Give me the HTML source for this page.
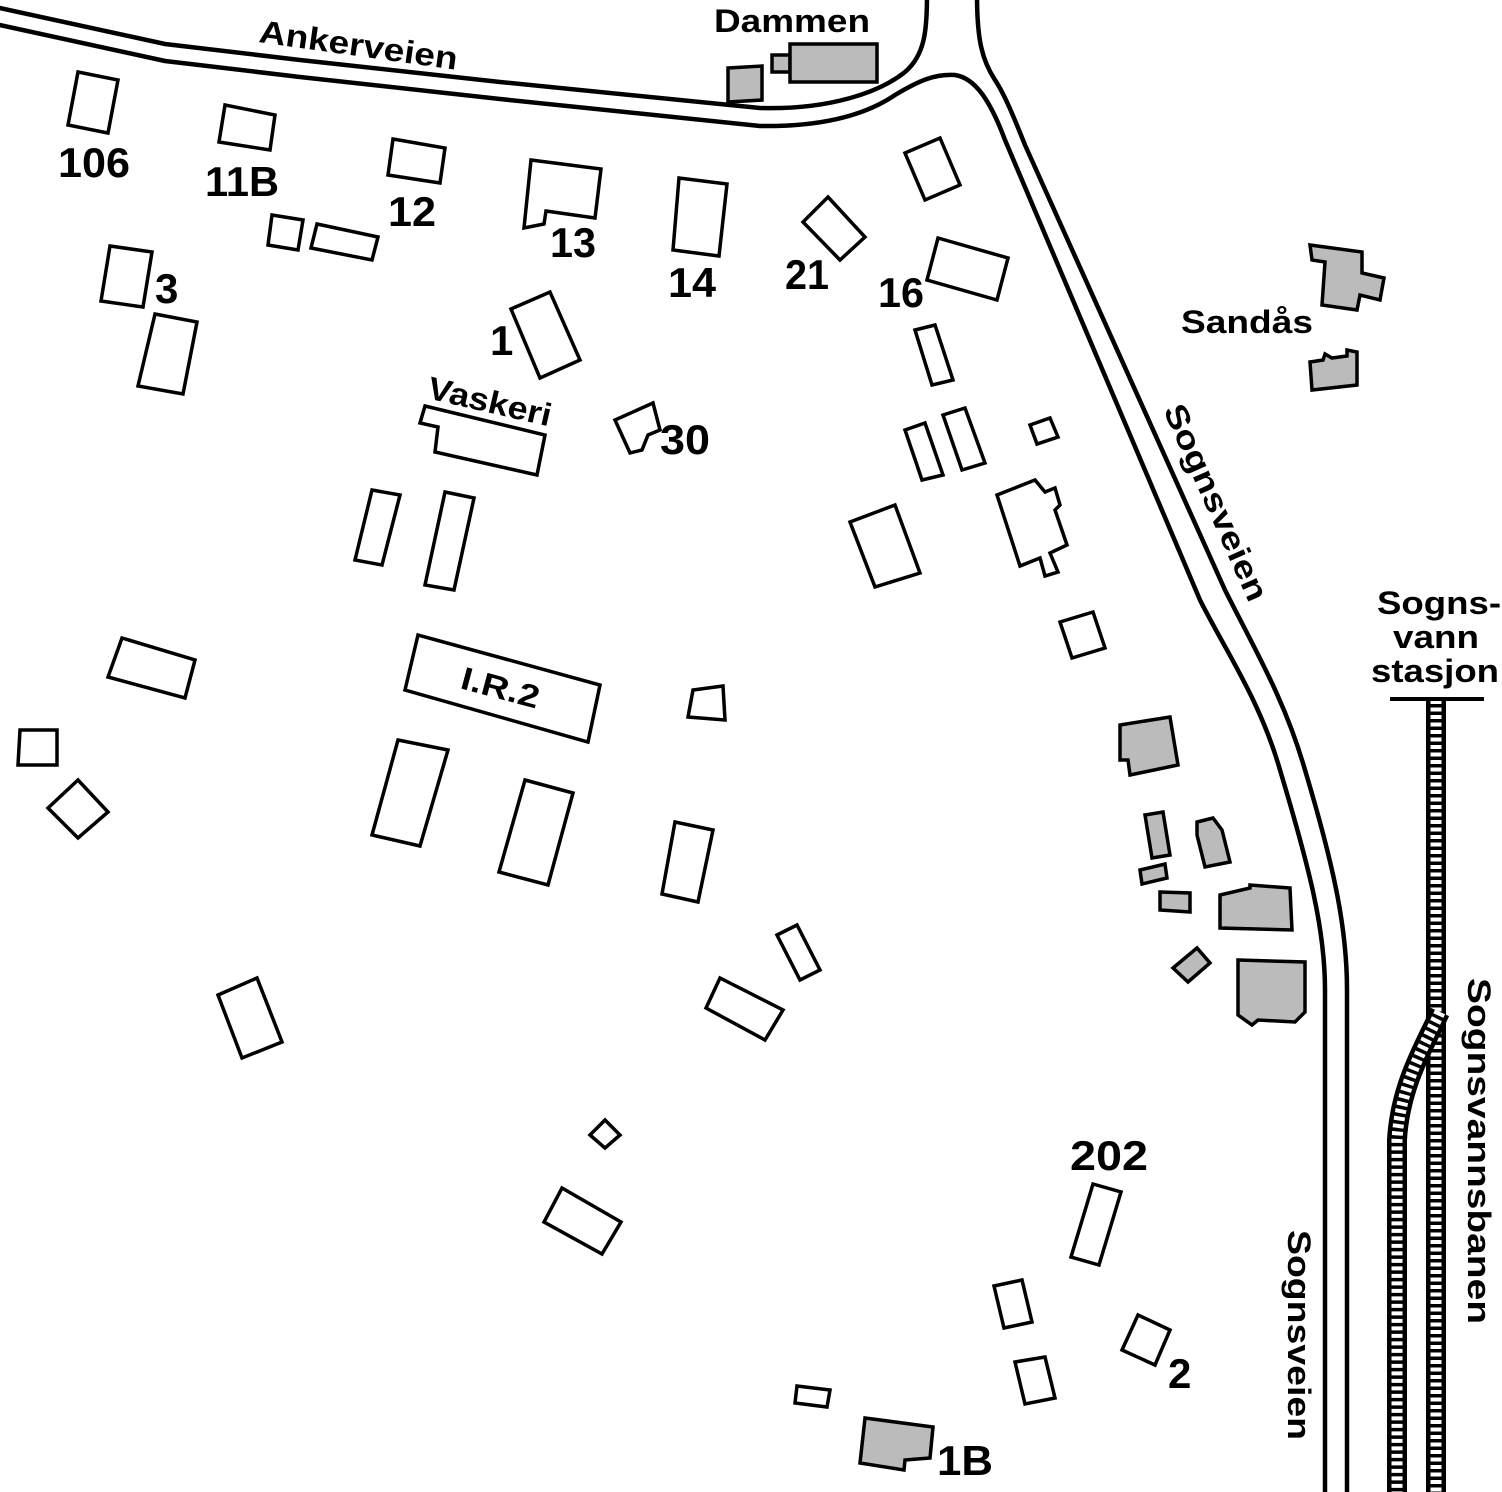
<!DOCTYPE html>
<html><head><meta charset="utf-8"><style>
html,body{margin:0;padding:0;background:#fff}
svg{display:block}
text{font-family:"Liberation Sans",sans-serif;font-weight:bold;fill:#000}
.b{fill:#fff;stroke:#000;stroke-width:3.5;stroke-linejoin:miter}
.g{fill:#bbb;stroke:#000;stroke-width:3.5}
</style></head><body>
<svg width="1502" height="1492" viewBox="0 0 1502 1492" xmlns="http://www.w3.org/2000/svg">
<rect width="1502" height="1492" fill="#fff"/>
<!-- roads -->
<g fill="none" stroke="#000" stroke-width="4.5" stroke-linejoin="round">
<path d="M-5,7 L165,44 L300,60 L500,82 L760,108 C830,110 880,92 905,72 C925,55 927,30 927,-5"/>
<path d="M-5,24 L165,61 L300,77 L500,99 L760,126 C830,127 870,112 895,95 C920,80 935,74 955,75 C975,78 990,100 1005,140 L1200,600 C1225,650 1260,700 1280,770 C1310,870 1325,930 1325,990 L1325,1500"/>
<path d="M977,-5 C977,40 982,60 995,80 C1005,95 1015,120 1025,145 L1225,590 C1255,650 1285,700 1305,770 C1335,870 1347,930 1347,990 L1347,1500"/>
</g>
<!-- railway -->
<g fill="none">
<path d="M1436,700 L1436,1500" stroke="#000" stroke-width="20"/>
<path d="M1436,700 L1436,1500" stroke="#fff" stroke-width="11" stroke-dasharray="4 3.5"/>
<path d="M1440,1012 C1425,1045 1400,1085 1397,1140 L1397,1500" stroke="#000" stroke-width="20"/>
<path d="M1440,1012 C1425,1045 1400,1085 1397,1140 L1397,1500" stroke="#fff" stroke-width="11" stroke-dasharray="4 3.5"/>
<line x1="1390" y1="699" x2="1484" y2="699" stroke="#000" stroke-width="4"/>
</g>
<!-- white buildings -->
<g class="b">
<polygon points="78,72 118,80 108,133 68,125"/>
<polygon points="225,105 275,115 270,150 219,142"/>
<polygon points="393,139 445,148 440,183 388,175"/>
<polygon points="531,160 601,169 595,218 546,211 544,224 524,228"/>
<polygon points="679,178 727,184 719,256 673,250"/>
<polygon points="828,197 865,237 840,260 803,222"/>
<polygon points="905,153 940,138 960,185 925,200"/>
<polygon points="938,238 1008,258 997,300 927,280"/>
<polygon points="272,215 303,220 298,250 268,245"/>
<polygon points="317,224 378,237 372,260 311,248"/>
<polygon points="110,246 152,252 143,307 101,301"/>
<polygon points="155,314 197,322 183,394 138,386"/>
<polygon points="511,309 550,292 580,360 540,378"/>
<polygon points="425,406 545,435 537,475 435,452 438,427 420,423"/>
<polygon points="615,420 653,403 660,430 648,435 642,450 630,453"/>
<polygon points="915,330 935,325 953,380 932,385"/>
<polygon points="905,430 925,423 943,475 922,480"/>
<polygon points="943,415 965,408 985,463 962,470"/>
<polygon points="1030,425 1050,418 1058,437 1037,444"/>
<polygon points="997,495 1035,480 1045,492 1055,488 1060,505 1055,510 1067,545 1050,553 1058,572 1045,576 1040,558 1020,566"/>
<polygon points="850,522 895,505 920,573 875,587"/>
<polygon points="372,490 400,495 382,565 355,560"/>
<polygon points="445,492 474,498 454,590 425,585"/>
<polygon points="1060,622 1093,612 1105,648 1072,658"/>
<polygon points="122,638 195,660 185,698 108,677"/>
<polygon points="418,635 600,685 588,742 405,690"/>
<polygon points="20,730 57,730 57,765 18,765"/>
<polygon points="48,808 78,780 108,812 78,838"/>
<polygon points="398,740 448,750 420,846 372,835"/>
<polygon points="525,780 573,793 548,885 499,872"/>
<polygon points="693,690 723,686 725,720 688,717"/>
<polygon points="675,822 713,830 698,902 662,894"/>
<polygon points="777,935 797,925 820,970 800,980"/>
<polygon points="720,978 783,1010 765,1040 706,1008"/>
<polygon points="218,995 257,978 282,1042 242,1058"/>
<polygon points="590,1135 605,1120 620,1135 605,1148"/>
<polygon points="562,1188 621,1222 602,1254 544,1222"/>
<polygon points="1093,1184 1121,1192 1099,1265 1071,1257"/>
<polygon points="994,1286 1022,1280 1032,1322 1004,1328"/>
<polygon points="1138,1315 1170,1330 1155,1365 1122,1350"/>
<polygon points="1015,1362 1045,1357 1055,1398 1025,1404"/>
<polygon points="797,1386 830,1390 827,1407 795,1403"/>
</g>
<!-- grey buildings -->
<g class="g">
<polygon points="728,68 762,66 762,100 728,102"/>
<polygon points="772,55 790,55 790,72 772,72"/>
<polygon points="790,44 877,44 877,82 790,82"/>
<polygon points="1310,245 1362,252 1362,273 1384,278 1380,300 1360,295 1357,310 1322,305 1325,262 1312,260"/>
<polygon points="1310,362 1323,360 1325,354 1332,358 1347,356 1347,350 1357,352 1357,385 1312,390"/>
<polygon points="1120,725 1170,717 1178,765 1130,775 1128,760 1120,760"/>
<polygon points="1145,815 1163,812 1170,855 1152,858"/>
<polygon points="1197,822 1213,818 1222,830 1230,862 1205,867 1197,835"/>
<polygon points="1140,870 1165,864 1167,878 1142,884"/>
<polygon points="1160,892 1190,893 1190,912 1160,910"/>
<polygon points="1220,895 1250,888 1250,885 1290,888 1292,930 1220,928"/>
<polygon points="1173,968 1197,948 1210,963 1188,982"/>
<polygon points="1238,960 1305,962 1305,1012 1295,1022 1258,1020 1252,1025 1238,1015"/>
<polygon points="865,1418 933,1427 930,1458 905,1460 904,1470 860,1463"/>
</g>
<!-- labels -->
<g font-size="42">
<text x="58" y="177" textLength="72" lengthAdjust="spacingAndGlyphs">106</text>
<text x="205" y="196" textLength="74" lengthAdjust="spacingAndGlyphs">11B</text>
<text x="388" y="226" textLength="48" lengthAdjust="spacingAndGlyphs">12</text>
<text x="550" y="257" textLength="46" lengthAdjust="spacingAndGlyphs">13</text>
<text x="668" y="297" textLength="48" lengthAdjust="spacingAndGlyphs">14</text>
<text x="785" y="289" textLength="44" lengthAdjust="spacingAndGlyphs">21</text>
<text x="878" y="307" textLength="46" lengthAdjust="spacingAndGlyphs">16</text>
<text x="155" y="303">3</text>
<text x="490" y="355">1</text>
<text x="660" y="454" textLength="50" lengthAdjust="spacingAndGlyphs">30</text>
<text x="1070" y="1170" textLength="78" lengthAdjust="spacingAndGlyphs">202</text>
<text x="1168" y="1388">2</text>
<text x="937" y="1475" textLength="56" lengthAdjust="spacingAndGlyphs">1B</text>
</g>
<g font-size="32">
<text x="714" y="32" textLength="156" lengthAdjust="spacingAndGlyphs">Dammen</text>
<text x="1181" y="333" textLength="132" lengthAdjust="spacingAndGlyphs">Sandås</text>
<text x="1377" y="614" textLength="124" lengthAdjust="spacingAndGlyphs">Sogns-</text>
<text x="1393" y="648" textLength="86" lengthAdjust="spacingAndGlyphs">vann</text>
<text x="1371" y="682" textLength="128" lengthAdjust="spacingAndGlyphs">stasjon</text>
<text transform="translate(258,42) rotate(8)" textLength="200" lengthAdjust="spacingAndGlyphs">Ankerveien</text>
<text transform="translate(426,398) rotate(13)" textLength="126" lengthAdjust="spacingAndGlyphs">Vaskeri</text>
<text transform="translate(459,688) rotate(15)" textLength="80" lengthAdjust="spacingAndGlyphs">I.R.2</text>
<text transform="translate(1163,410) rotate(66)" textLength="212" lengthAdjust="spacingAndGlyphs">Sognsveien</text>
<text transform="translate(1288,1230) rotate(90)" textLength="210" lengthAdjust="spacingAndGlyphs">Sognsveien</text>
<text transform="translate(1468,978) rotate(90)" textLength="346" lengthAdjust="spacingAndGlyphs">Sognsvannsbanen</text>
</g>
</svg>
</body></html>
